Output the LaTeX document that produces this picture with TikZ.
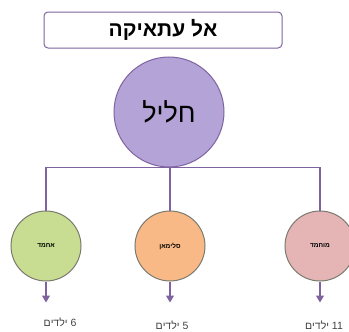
\documentclass[tikz,border=0pt]{standalone}
\usepackage{fontspec}
\setmainfont{Liberation Sans}
\TeXXeTstate=1
\usetikzlibrary{arrows.meta,positioning}
\definecolor{linepurple}{HTML}{7F63A1}
\definecolor{hubfill}{HTML}{B4A3D6}
\definecolor{greenfill}{HTML}{C8DD91}
\definecolor{orangefill}{HTML}{F8B987}
\definecolor{pinkfill}{HTML}{E5B5B5}
\definecolor{rimgray}{HTML}{7A7A6E}
\newcommand{\heb}[1]{\beginR #1\endR}

\begin{document}
\begin{tikzpicture}[x=1pt, y=-1pt, >={Triangle[width=8pt,length=7pt]}]
\tikzset{
  titlebox/.style = {rectangle, rounded corners=4pt, draw=linepurple, line width=1pt, fill=white, minimum width=238pt, minimum height=36pt, font=\fontsize{21}{24}\selectfont\bfseries},
  hub/.style = {circle, draw=linepurple, line width=1pt, fill=hubfill, minimum size=110pt, inner sep=0pt, font=\fontsize{27}{30}\selectfont},
  kid/.style = {circle, draw=rimgray, line width=1pt, minimum size=70pt, inner sep=0pt, font=\fontsize{6.5}{8}\selectfont\bfseries},
  link/.style = {draw=linepurple, line width=1.3pt},
  count/.style = {font=\fontsize{10.5}{12}\selectfont, text=black!75}
}
\useasboundingbox (0,0) rectangle (349,332);

% Title and main circle
\node[titlebox] (title) at (163,30) {\heb{אל עתאיקה}};
\node[hub] (hub) at (169,112) {\heb{חליל}};

% Children
\node[kid, fill=greenfill] (ahmad) at (46,246) {\heb{אחמד}};
\node[kid, fill=orangefill] (suleiman) at (170,246) {\heb{סלימאן}};
\node[kid, fill=pinkfill] (mohamad) at (320,246) {\heb{מוחמד}};

% Tree lines
\draw[link] (ahmad.north) |- (hub.south) -| (mohamad.north);
\draw[link] (suleiman.north |- hub.south) -- (suleiman.north);

% Counts
\node[count] (kidsA) at (60,322) {\heb{6 ילדים}};
\node[count] (kidsS) at (172,325) {\heb{5 ילדים}};
\node[count] (kidsM) at (324,325) {\heb{11 ילדים}};

\draw[link, ->] (ahmad.south) -- ++(0,21);
\draw[link, ->] (suleiman.south) -- ++(0,21);
\draw[link, ->] (mohamad.south) -- ++(0,21);

\end{tikzpicture}
\end{document}
